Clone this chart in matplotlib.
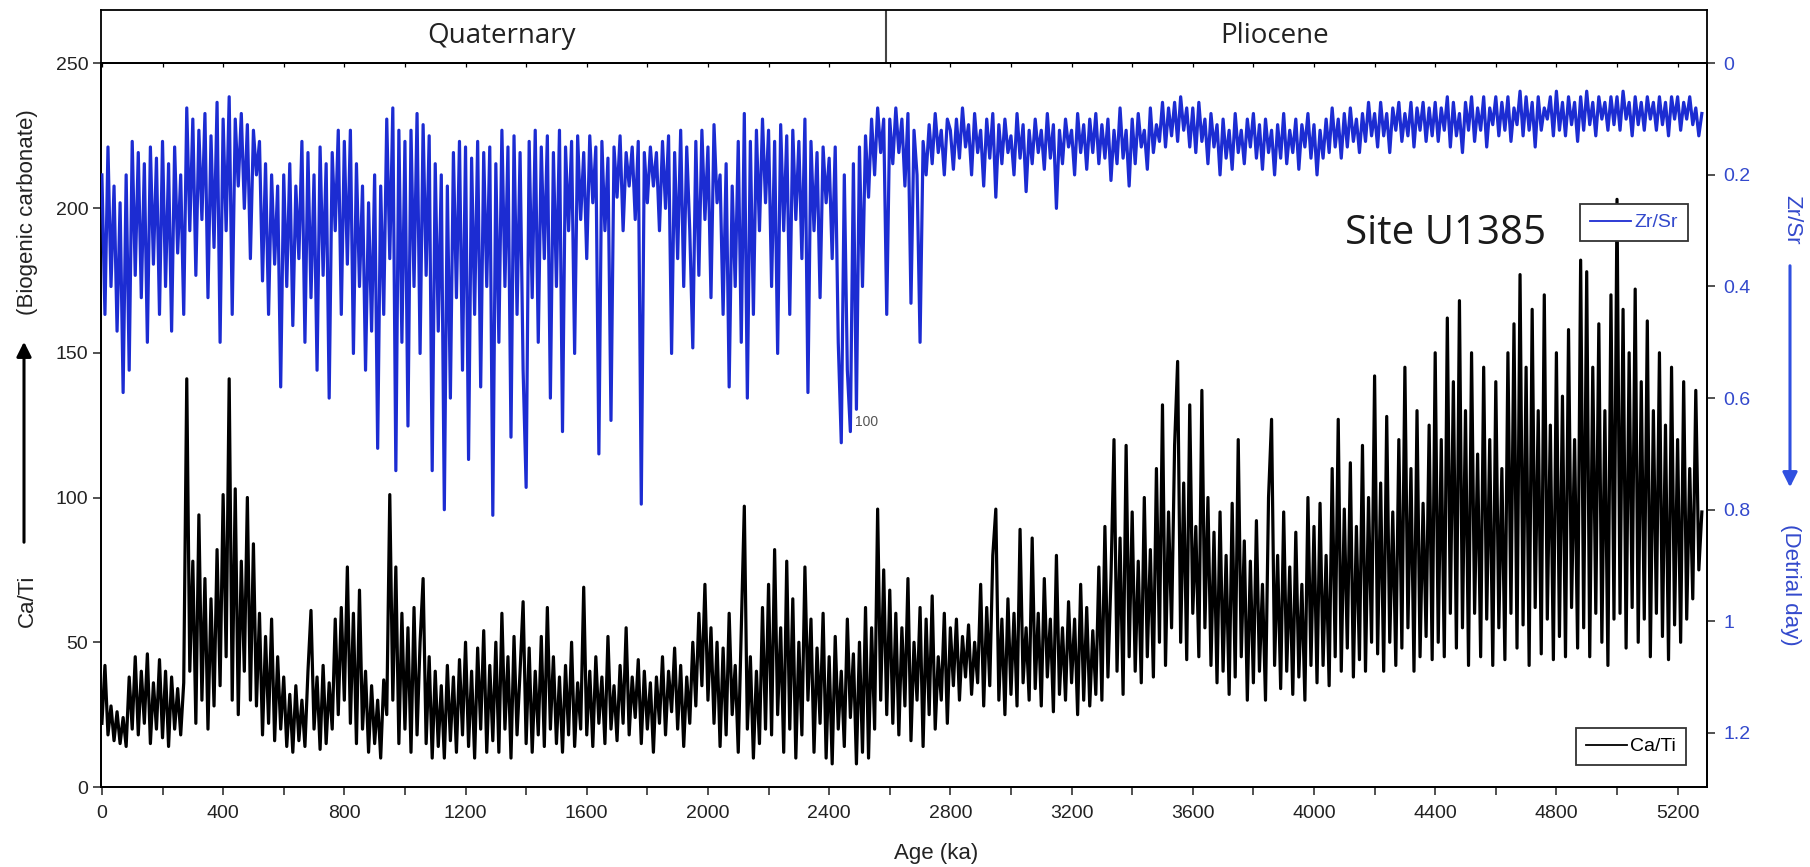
import numpy as np
import matplotlib
matplotlib.use("Agg")
import matplotlib.pyplot as plt
from matplotlib.ticker import MultipleLocator, FixedLocator, FuncFormatter
from matplotlib.patches import FancyArrowPatch

plt.rcParams['font.family'] = ['Liberation Sans', 'DejaVu Sans']

# ---- Site U1385 XRF ratios, sampled every 10 ka ----
age_ka = np.arange(0, 5290, 10)

ca_ti = np.array([
    22, 42, 18, 28, 16, 26, 15, 24, 14, 38, 20, 45, 18, 40, 22, 46, 15, 36, 20, 44,
    17, 40, 14, 38, 20, 34, 18, 36, 141, 40, 78, 22, 94, 30, 72, 20, 65, 28, 82, 35,
    101, 45, 141, 30, 103, 25, 78, 40, 100, 30, 84, 28, 60, 18, 52, 22, 58, 16, 45, 20,
    38, 14, 32, 12, 35, 16, 30, 14, 40, 61, 20, 38, 13, 42, 15, 36, 20, 58, 25, 62,
    30, 76, 22, 60, 15, 68, 20, 40, 12, 35, 15, 30, 10, 37, 25, 101, 30, 76, 15, 60,
    20, 55, 12, 62, 18, 50, 72, 15, 45, 10, 40, 14, 35, 10, 42, 16, 38, 12, 44, 18,
    50, 14, 40, 10, 48, 20, 54, 12, 42, 16, 50, 12, 60, 20, 45, 10, 52, 18, 40, 64,
    15, 48, 12, 40, 18, 52, 14, 62, 20, 45, 15, 38, 12, 42, 18, 50, 14, 36, 20, 69,
    18, 40, 14, 45, 22, 38, 15, 52, 20, 35, 16, 42, 22, 55, 18, 38, 24, 44, 15, 40,
    20, 36, 12, 38, 22, 45, 18, 40, 26, 48, 20, 42, 14, 38, 22, 50, 28, 60, 35, 70,
    30, 55, 22, 50, 14, 48, 18, 60, 25, 42, 12, 55, 97, 20, 45, 10, 40, 15, 62, 20,
    70, 18, 82, 25, 55, 12, 78, 20, 65, 10, 50, 18, 76, 30, 58, 12, 48, 22, 60, 10,
    45, 8, 52, 20, 40, 14, 58, 24, 46, 8, 50, 12, 62, 10, 55, 20, 96, 30, 75, 25,
    68, 22, 60, 18, 55, 28, 72, 16, 50, 30, 62, 14, 58, 25, 66, 20, 45, 30, 60, 22,
    55, 35, 58, 30, 52, 38, 56, 32, 50, 36, 70, 28, 62, 35, 80, 96, 30, 58, 25, 65,
    32, 60, 28, 89, 36, 55, 30, 86, 34, 60, 28, 72, 38, 58, 26, 80, 32, 55, 30, 64,
    36, 58, 25, 70, 30, 62, 28, 54, 32, 76, 30, 90, 38, 72, 120, 40, 86, 32, 118, 45,
    95, 40, 78, 36, 100, 45, 82, 38, 110, 50, 132, 42, 95, 55, 118, 147, 50, 105, 44, 132,
    60, 90, 45, 137, 55, 100, 42, 88, 36, 95, 40, 80, 32, 98, 38, 120, 45, 85, 30, 78,
    36, 92, 40, 70, 30, 100, 127, 42, 80, 34, 95, 40, 76, 32, 88, 38, 70, 30, 100, 42,
    90, 36, 98, 42, 80, 35, 110, 45, 127, 40, 96, 48, 112, 38, 90, 44, 118, 40, 100, 50,
    142, 46, 105, 40, 128, 50, 95, 42, 120, 48, 145, 55, 110, 40, 130, 45, 98, 52, 125, 44,
    150, 50, 120, 45, 162, 60, 140, 48, 168, 55, 130, 42, 150, 60, 115, 45, 145, 58, 120, 42,
    140, 55, 110, 44, 150, 60, 160, 48, 177, 56, 145, 42, 165, 62, 130, 46, 170, 58, 125, 44,
    150, 52, 135, 45, 158, 62, 120, 48, 182, 55, 178, 45, 145, 60, 160, 50, 130, 42, 170, 58,
    203, 60, 165, 48, 150, 62, 172, 50, 140, 58, 161, 45, 130, 60, 150, 52, 125, 44, 145, 56,
    120, 50, 140, 58, 110, 65, 137, 75, 95,
])

zr_sr = np.array([
    0.20, 0.45, 0.15, 0.40, 0.22, 0.48, 0.25, 0.59, 0.20, 0.55, 0.14, 0.38, 0.16, 0.42, 0.18, 0.50, 0.15, 0.36, 0.17, 0.45,
    0.14, 0.40, 0.18, 0.48, 0.15, 0.34, 0.20, 0.45, 0.08, 0.30, 0.10, 0.38, 0.12, 0.28, 0.09, 0.42, 0.13, 0.33, 0.07, 0.50,
    0.10, 0.30, 0.06, 0.45, 0.10, 0.22, 0.09, 0.26, 0.11, 0.35, 0.12, 0.20, 0.14, 0.39, 0.18, 0.45, 0.20, 0.36, 0.22, 0.58,
    0.20, 0.40, 0.18, 0.47, 0.22, 0.35, 0.14, 0.50, 0.16, 0.42, 0.20, 0.55, 0.15, 0.38, 0.18, 0.60, 0.16, 0.30, 0.12, 0.45,
    0.14, 0.36, 0.12, 0.52, 0.18, 0.40, 0.22, 0.55, 0.25, 0.48, 0.20, 0.69, 0.22, 0.45, 0.10, 0.35, 0.08, 0.73, 0.12, 0.50,
    0.14, 0.65, 0.12, 0.40, 0.09, 0.52, 0.11, 0.38, 0.13, 0.73, 0.18, 0.48, 0.20, 0.80, 0.22, 0.60, 0.16, 0.42, 0.14, 0.55,
    0.15, 0.71, 0.17, 0.45, 0.14, 0.58, 0.16, 0.40, 0.15, 0.81, 0.18, 0.50, 0.12, 0.40, 0.15, 0.67, 0.13, 0.45, 0.16, 0.55,
    0.76, 0.14, 0.42, 0.12, 0.50, 0.15, 0.35, 0.13, 0.60, 0.16, 0.40, 0.12, 0.66, 0.15, 0.30, 0.14, 0.52, 0.13, 0.28, 0.16,
    0.35, 0.13, 0.25, 0.15, 0.70, 0.14, 0.30, 0.17, 0.64, 0.15, 0.24, 0.13, 0.30, 0.16, 0.22, 0.15, 0.28, 0.14, 0.79, 0.16,
    0.25, 0.15, 0.22, 0.16, 0.30, 0.14, 0.26, 0.13, 0.52, 0.16, 0.35, 0.12, 0.40, 0.15, 0.30, 0.51, 0.14, 0.38, 0.12, 0.28,
    0.15, 0.42, 0.11, 0.25, 0.20, 0.45, 0.18, 0.58, 0.22, 0.40, 0.14, 0.50, 0.09, 0.60, 0.14, 0.45, 0.12, 0.30, 0.10, 0.25,
    0.12, 0.40, 0.14, 0.52, 0.11, 0.30, 0.13, 0.45, 0.12, 0.28, 0.14, 0.35, 0.10, 0.59, 0.14, 0.30, 0.16, 0.42, 0.15, 0.25,
    0.17, 0.35, 0.15, 0.50, 0.68, 0.20, 0.55, 0.66, 0.18, 0.62, 0.15, 0.40, 0.13, 0.24, 0.10, 0.20, 0.08, 0.16, 0.10, 0.45,
    0.10, 0.18, 0.08, 0.16, 0.10, 0.22, 0.09, 0.43, 0.12, 0.20, 0.50, 0.14, 0.20, 0.11, 0.18, 0.09, 0.16, 0.12, 0.20, 0.10,
    0.12, 0.19, 0.10, 0.17, 0.08, 0.15, 0.11, 0.20, 0.09, 0.16, 0.12, 0.22, 0.10, 0.17, 0.09, 0.24, 0.11, 0.18, 0.10, 0.16,
    0.13, 0.20, 0.09, 0.17, 0.11, 0.23, 0.12, 0.18, 0.10, 0.16, 0.12, 0.19, 0.09, 0.17, 0.11, 0.26, 0.12, 0.18, 0.10, 0.15,
    0.12, 0.20, 0.09, 0.16, 0.11, 0.19, 0.10, 0.16, 0.09, 0.18, 0.11, 0.17, 0.10, 0.21, 0.12, 0.18, 0.08, 0.17, 0.12, 0.22,
    0.10, 0.18, 0.09, 0.15, 0.12, 0.19, 0.08, 0.16, 0.11, 0.14, 0.07, 0.15, 0.08, 0.13, 0.07, 0.14, 0.06, 0.12, 0.08, 0.15,
    0.08, 0.16, 0.07, 0.14, 0.10, 0.18, 0.09, 0.15, 0.11, 0.20, 0.10, 0.17, 0.12, 0.19, 0.09, 0.16, 0.12, 0.18, 0.10, 0.15,
    0.09, 0.17, 0.11, 0.19, 0.10, 0.16, 0.12, 0.20, 0.11, 0.17, 0.09, 0.18, 0.12, 0.16, 0.10, 0.19, 0.11, 0.15, 0.09, 0.17,
    0.11, 0.20, 0.12, 0.17, 0.10, 0.16, 0.08, 0.15, 0.10, 0.17, 0.09, 0.15, 0.08, 0.14, 0.10, 0.16, 0.09, 0.14, 0.07, 0.13,
    0.09, 0.15, 0.07, 0.13, 0.09, 0.16, 0.08, 0.12, 0.07, 0.14, 0.09, 0.13, 0.07, 0.15, 0.08, 0.12, 0.07, 0.14, 0.08, 0.13,
    0.07, 0.14, 0.08, 0.12, 0.06, 0.15, 0.07, 0.13, 0.09, 0.16, 0.07, 0.12, 0.06, 0.14, 0.08, 0.12, 0.06, 0.15, 0.08, 0.11,
    0.06, 0.13, 0.07, 0.12, 0.06, 0.14, 0.08, 0.11, 0.05, 0.13, 0.06, 0.12, 0.07, 0.15, 0.06, 0.12, 0.08, 0.10, 0.06, 0.13,
    0.05, 0.12, 0.07, 0.13, 0.06, 0.11, 0.07, 0.14, 0.06, 0.12, 0.05, 0.11, 0.07, 0.13, 0.06, 0.10, 0.07, 0.12, 0.06, 0.11,
    0.06, 0.12, 0.05, 0.10, 0.07, 0.13, 0.06, 0.11, 0.07, 0.12, 0.06, 0.10, 0.07, 0.12, 0.06, 0.11, 0.07, 0.13, 0.06, 0.10,
    0.06, 0.12, 0.07, 0.10, 0.06, 0.11, 0.08, 0.13, 0.09,
])

# Geological periods shown in the header strip (ka)
periods = ["Quaternary", "Pliocene"]
period_bounds = [0, 2588, 5296]

left_ticks = [0, 50, 100, 150, 200, 250]
right_ticks = [0, 0.2, 0.4, 0.6, 0.8, 1.0, 1.2]

BLUE = "#1c2cd2"
BLUE_TXT = "#3349cc"
W, H = 1810, 867


def fx(px):
    return px / W


def fy(py):
    return 1 - py / H


fig = plt.figure(figsize=(W / 100, H / 100), dpi=100, facecolor="white")

ax_left, ax_right, ax_top, ax_bot = 100.7, 1706.7, 63.3, 787.0
ax1 = fig.add_axes([fx(ax_left), fy(ax_bot), (ax_right - ax_left) / W, (ax_bot - ax_top) / H])
band = fig.add_axes([fx(ax_left), fy(ax_top), (ax_right - ax_left) / W, (ax_top - 10) / H])

xmin, xmax = -4, 5296

# Ca/Ti on the left axis
ca_line, = ax1.plot(age_ka, ca_ti, color="black", lw=2.3, zorder=2)
ax1.set_xlim(xmin, xmax)
ax1.set_ylim(0, 250)
ax1.yaxis.set_major_locator(FixedLocator(left_ticks))
ax1.xaxis.set_major_locator(MultipleLocator(400))
ax1.xaxis.set_minor_locator(MultipleLocator(200))
ax1.tick_params(axis="x", which="both", direction="out", length=6, width=1.1,
                labelsize=14, pad=7, colors="#222222")
ax1.tick_params(axis="y", direction="out", length=6, width=1.1, labelsize=14, pad=3,
                colors="#222222")
for s in ax1.spines.values():
    s.set_linewidth(1.3)

# Zr/Sr on the inverted right axis
ax2 = ax1.twinx()
zr_line, = ax2.plot(age_ka, zr_sr, color=BLUE, lw=2.3, zorder=3)
ax2.set_ylim(1.297, 0)
ax2.yaxis.set_major_locator(FixedLocator(right_ticks))
ax2.yaxis.set_major_formatter(FuncFormatter(lambda v, p: f"{v:g}"))
ax2.tick_params(axis="y", direction="out", length=6, width=1.1, labelsize=14, pad=6,
                labelcolor=BLUE_TXT, color="#222222")
for s in ax2.spines.values():
    s.set_linewidth(1.3)

# Header strip with period names
band.set_xlim(xmin, xmax)
band.set_ylim(0, 1)
band.set_yticks([])
band.xaxis.set_major_locator(MultipleLocator(200))
band.tick_params(axis="x", direction="out", length=3, width=0.9, labelbottom=False)
for s in band.spines.values():
    s.set_linewidth(1.3)
band.axvline(period_bounds[1], color="#444444", lw=1.5)
label_centres = [1320, 3870]
for name, xc in zip(periods, label_centres):
    band.text(xc, 0.38, name, ha="center", va="baseline",
              fontsize=20, family="Open Sans", color="#222222")

# Axis titles
ax1.set_xlabel("Age (ka)", fontsize=16, color="#222222")
ax1.xaxis.label.set_va("center")
ax1.xaxis.set_label_coords((936 - ax_left) / (ax_right - ax_left), -(853 - ax_bot) / (ax_bot - ax_top))

fig.text(fx(27), fy(601), "Ca/Ti", rotation=90, ha="center", va="center", fontsize=16, color="#222222")
fig.text(fx(28), fy(212), "(Biogenic carbonate)", rotation=90, ha="center", va="center",
         fontsize=16, color="#222222")
fig.add_artist(FancyArrowPatch((fx(24), fy(545)), (fx(24), fy(339)), transform=fig.transFigure,
                               arrowstyle="-|>", mutation_scale=22, lw=2.2, color="black"))

fig.text(fx(1792), fy(220), "Zr/Sr", rotation=-90, ha="center", va="center", fontsize=16, color=BLUE_TXT)
fig.text(fx(1790), fy(585), "(Detrial day)", rotation=-90, ha="center", va="center",
         fontsize=16, color=BLUE_TXT)
fig.add_artist(FancyArrowPatch((fx(1790), fy(263)), (fx(1790), fy(490)), transform=fig.transFigure,
                               arrowstyle="-|>", mutation_scale=22, lw=2.2, color="#3050e0"))

# Site name and small annotation
fig.text(fx(1345), fy(244), "Site U1385", fontsize=29, family="Open Sans", ha="left",
         va="baseline", color="#1a1a1a")
ax1.text(2485, 126, "100", fontsize=10, color="#555555", ha="left", va="center")

# Legends
leg_kw = dict(loc="upper left", bbox_transform=fig.transFigure, frameon=True, fancybox=False,
              edgecolor="#333333", framealpha=1, borderpad=0.5, handlelength=2.1,
              handletextpad=0.2, borderaxespad=0, prop={"size": 14})
leg2 = ax2.legend(handles=[zr_line], labels=["Zr/Sr"], bbox_to_anchor=(fx(1580), fy(204)), **leg_kw)
leg2.get_frame().set_linewidth(1.3)
leg2.get_lines()[0].set_linewidth(1.3)
leg2.get_texts()[0].set_color(BLUE_TXT)
leg1 = ax1.legend(handles=[ca_line], labels=["Ca/Ti"], bbox_to_anchor=(fx(1576), fy(728)), **leg_kw)
leg1.get_frame().set_linewidth(1.3)
leg1.get_lines()[0].set_linewidth(1.3)

fig.savefig("out.png", dpi=100, facecolor="white")
